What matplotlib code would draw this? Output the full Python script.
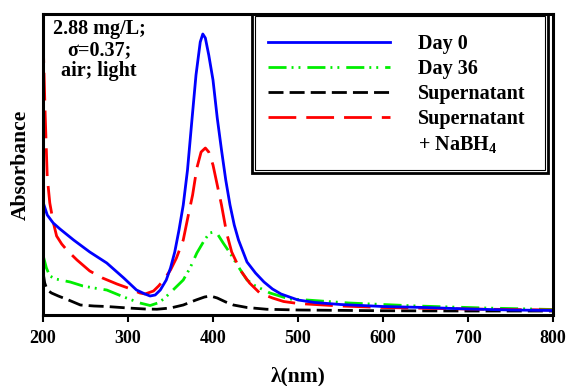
import matplotlib
matplotlib.use("Agg")
import matplotlib.pyplot as plt
from matplotlib.lines import Line2D
from matplotlib.patches import Rectangle

plt.rcParams['font.family'] = ['Liberation Serif', 'DejaVu Serif']
plt.rcParams['font.weight'] = 'bold'
plt.rcParams['mathtext.fontset'] = 'custom'
plt.rcParams['mathtext.rm'] = 'Liberation Serif:bold'
plt.rcParams['mathtext.bf'] = 'Liberation Serif:bold'
plt.rcParams['mathtext.default'] = 'bf'

# Day 0
wl_day0 = [200, 205, 212, 220, 236, 255, 275, 295, 310, 320, 326, 332, 338, 345, 350,
           355, 360, 365, 370, 375, 380, 385, 388, 391, 395, 400, 405, 410, 415, 420,
           425, 430, 440, 450, 460, 470, 480, 500, 520, 550, 600, 650, 700, 750, 800]
abs_day0 = [0.452, 0.400, 0.368, 0.344, 0.300, 0.252, 0.208, 0.148, 0.100, 0.084, 0.076,
            0.080, 0.100, 0.140, 0.188, 0.252, 0.340, 0.440, 0.580, 0.772, 0.960, 1.092,
            1.124, 1.108, 1.040, 0.940, 0.788, 0.660, 0.540, 0.440, 0.360, 0.300, 0.212,
            0.168, 0.132, 0.104, 0.084, 0.060, 0.050, 0.042, 0.034, 0.030, 0.024, 0.020,
            0.018]

# Day 36
wl_day36 = [200, 204, 208, 215, 232, 247, 260, 275, 295, 314, 326, 335, 342, 353, 365,
            373, 381, 390, 396, 401, 406, 412, 420, 430, 440, 450, 467, 490, 502, 560,
            640, 720, 800]
abs_day36 = [0.240, 0.188, 0.156, 0.144, 0.132, 0.116, 0.108, 0.100, 0.072, 0.048, 0.038,
             0.048, 0.064, 0.100, 0.140, 0.188, 0.248, 0.300, 0.328, 0.332, 0.320, 0.288,
             0.248, 0.192, 0.140, 0.116, 0.088, 0.064, 0.062, 0.048, 0.036, 0.028, 0.022]

# Supernatant
wl_sup = [200, 202, 205, 210, 218, 230, 244, 260, 275, 300, 320, 334, 350, 365, 380,
          390, 397, 405, 415, 424, 440, 463, 500, 600, 700, 800]
abs_sup = [0.172, 0.128, 0.100, 0.088, 0.076, 0.060, 0.040, 0.036, 0.034, 0.028, 0.024,
           0.023, 0.028, 0.040, 0.060, 0.072, 0.076, 0.068, 0.052, 0.040, 0.030, 0.023,
           0.020, 0.017, 0.016, 0.016]

# Supernatant + NaBH4
wl_nabh = [200, 202.5, 205, 208, 212, 216, 222, 228, 240, 255, 270, 287, 300, 314, 320,
           330, 336, 342, 350, 357, 365, 371, 376, 381, 386, 391, 395, 400, 405, 410,
           416, 422, 432, 443, 455, 470, 483, 500, 550, 600, 700, 800]
abs_nabh = [1.120, 0.808, 0.552, 0.448, 0.372, 0.316, 0.284, 0.260, 0.220, 0.176, 0.148,
            0.124, 0.108, 0.088, 0.084, 0.096, 0.116, 0.140, 0.180, 0.228, 0.300, 0.400,
            0.480, 0.588, 0.652, 0.668, 0.652, 0.600, 0.520, 0.440, 0.328, 0.252, 0.180,
            0.128, 0.088, 0.068, 0.054, 0.046, 0.036, 0.030, 0.024, 0.020]

xticks = [200, 300, 400, 500, 600, 700, 800]

fig = plt.figure(figsize=(5.68, 3.86), dpi=100)
ax = fig.add_axes([43/568, 71/386, 510/568, 301/386])

lw = 2.0
dash_sup = (5.4, 2.2)
dash_d36 = (6.5, 1.8, 0.7, 1.8, 0.7, 2.5)
dash_nabh = (10, 3.6)
ax.plot(wl_sup, abs_sup, color='black', lw=lw, dashes=dash_sup)
ax.plot(wl_day36, abs_day36, color='#00ee00', lw=lw, dashes=dash_d36)
ax.plot(wl_nabh, abs_nabh, color='#ff0000', lw=lw, dashes=dash_nabh)
ax.plot(wl_day0, abs_day0, color='#0000ff', lw=lw)

ax.set_xlim(200, 800)
ax.set_ylim(0, 1.204)
ax.set_xticks(xticks)
ax.set_xticklabels([str(t) for t in xticks], fontsize=13, fontweight='bold')
ax.set_yticks([])
ax.tick_params(axis='x', direction='out', length=5, width=1.5, pad=6)
for s in ax.spines.values():
    s.set_linewidth(2.2)

ax.set_xlabel('λ(nm)', fontsize=15.5, fontweight='bold', labelpad=14)
ax.set_ylabel('Absorbance', fontsize=15.5, fontweight='bold', labelpad=9)

ax.text(0.11, 0.985, '2.88 mg/L;\nσ=0.37;\nair; light', transform=ax.transAxes,
        ha='center', va='top', fontsize=14.5, fontweight='bold', linespacing=1.08)

handles = [Line2D([], [], color='#0000ff', lw=lw),
           Line2D([], [], color='#00ee00', lw=lw, dashes=dash_d36),
           Line2D([], [], color='black', lw=lw, dashes=dash_sup),
           Line2D([], [], color='#ff0000', lw=lw, dashes=dash_nabh),
           Line2D([], [], color='none', lw=0)]
labels = ['Day 0', 'Day 36', 'Supernatant', 'Supernatant', '+ NaBH$_4$']
leg = ax.legend(handles, labels, loc='upper left', bbox_to_anchor=(0.441, 0.935),
                fontsize=14.5, frameon=False,
                handlelength=6.07, handletextpad=1.4, labelspacing=0.25,
                borderpad=0, borderaxespad=0)
ax.add_patch(Rectangle((0.409, 0.472), 0.581, 0.528, transform=ax.transAxes,
                       fill=False, lw=2.0, edgecolor='black', zorder=6))
ax.add_patch(Rectangle((0.415, 0.482), 0.569, 0.511, transform=ax.transAxes,
                       fill=False, lw=0.8, edgecolor='black', zorder=6))

fig.savefig('out.png', dpi=100)
